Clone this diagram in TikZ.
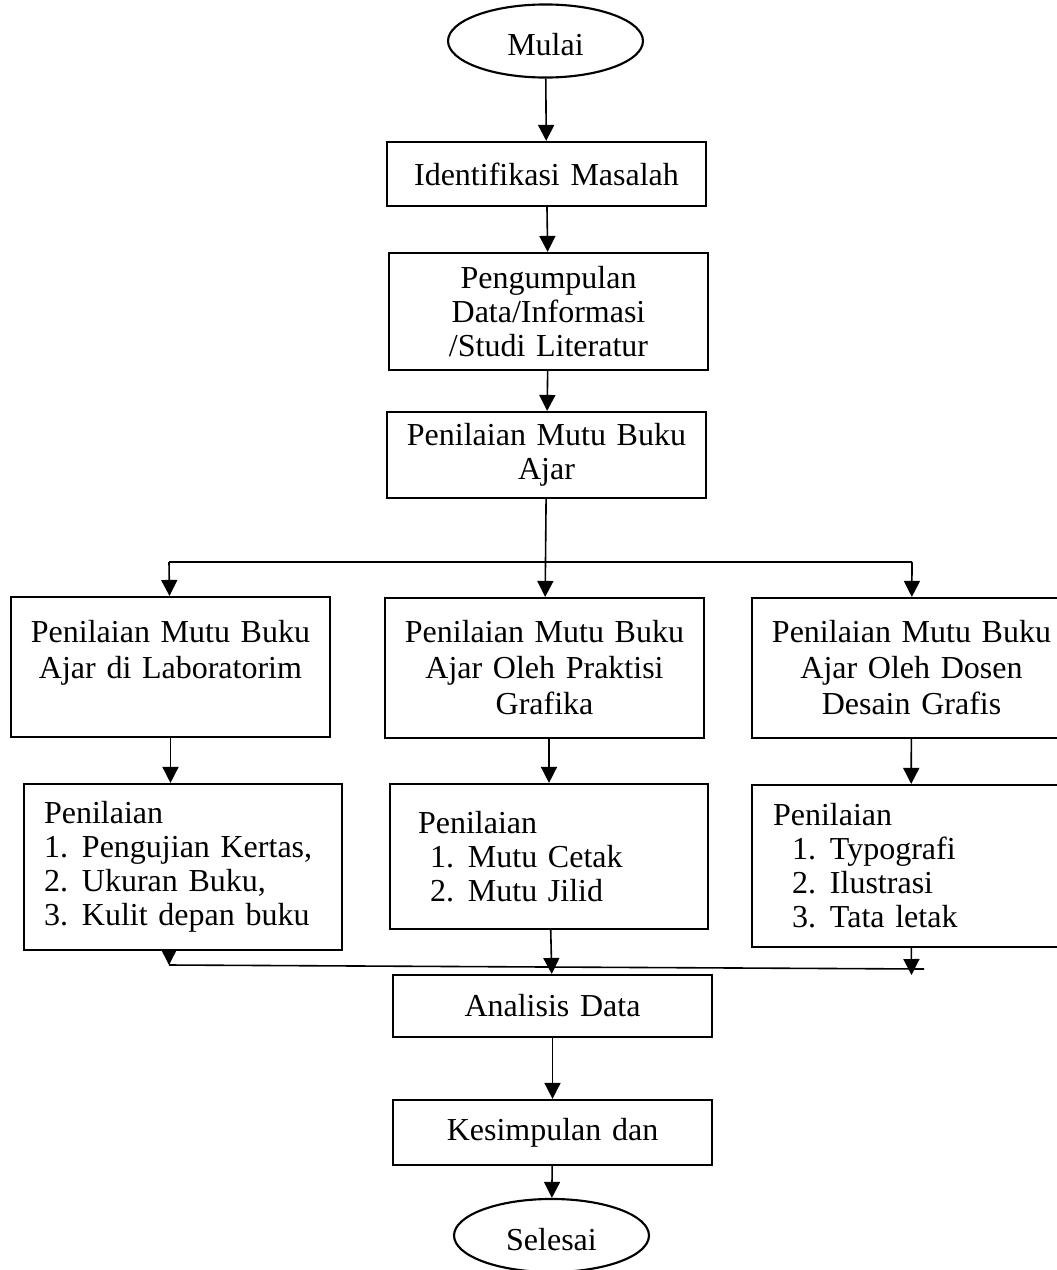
\documentclass[tikz,border=0pt]{standalone}
\usepackage{fontspec}
\setmainfont{Liberation Serif}
\usetikzlibrary{shapes.geometric,arrows.meta}
\newcommand{\butir}[3]{\hspace*{#1}\makebox[14.25pt][l]{#2}#3}

\begin{document}
\begin{tikzpicture}[x=0.375pt, y=-0.375pt,
    every node/.style={draw, line width=0.8pt, inner sep=0pt, align=center, font=\fontsize{12pt}{13.5pt}\selectfont},
    kotak/.style={rectangle, text width=119.6pt, minimum height=#1},
    daftar/.style={rectangle, align=left, minimum height=#1, font=\fontsize{12pt}{12.75pt}\selectfont},
    oval/.style={ellipse, minimum width=73.1pt, minimum height=27.4pt, text height=11pt, text depth=0pt},
    panah/.style={-{Triangle[length=6pt,width=6pt]}, line width=0.6pt}]
    \useasboundingbox (0,0) rectangle (1057,1270);

    \node[oval] (mulai) at (545.5,41) {Mulai};
    \node[kotak=24pt] (identifikasi) at (546.5,174) {Identifikasi Masalah};
    \node[kotak=43.9pt, font=\fontsize{12pt}{12.75pt}\selectfont] (pengumpulan) at (548.5,311.5) {Pengumpulan\\Data/Informasi\\/Studi Literatur};
    \node[kotak=32.25pt, font=\fontsize{12pt}{12.75pt}\selectfont] (penilaian) at (546.5,455) {Penilaian Mutu Buku\\Ajar};

    \node[kotak=52.5pt] (lab) at (170.5,667) {Penilaian Mutu Buku\\Ajar di Laboratorim\\\mbox{}};
    \node[kotak=52.5pt] (praktisi) at (544.5,668) {Penilaian Mutu Buku\\Ajar Oleh Praktisi\\Grafika};
    \node[kotak=52.5pt] (dosen) at (911.5,668) {Penilaian Mutu Buku\\Ajar Oleh Dosen\\Desain Grafis};

    \node[daftar=62.25pt, text width=104.25pt, inner xsep=7.5pt] (ujilab) at (183,867)
        {Penilaian\\\butir{0pt}{1.}{Pengujian Kertas,}\\\butir{0pt}{2.}{Ukuran Buku,}\\\butir{0pt}{3.}{Kulit depan buku}};
    \node[daftar=54.4pt, text width=98.25pt, inner xsep=10.5pt] (cetak) at (549,856.5)
        {Penilaian\\\butir{4.5pt}{1.}{Mutu Cetak}\\\butir{4.5pt}{2.}{Mutu Jilid}};
    \node[daftar=60.75pt, text width=103.45pt, inner xsep=7.9pt] (tampilan) at (911,866)
        {Penilaian\\\butir{7.1pt}{1.}{Typografi}\\\butir{7.1pt}{2.}{Ilustrasi}\\\butir{7.1pt}{3.}{Tata letak}};

    \node[kotak=23.25pt] (analisis) at (552.5,1006) {Analisis Data};
    \node[kotak=24.4pt] (kesimpulan) at (552.5,1132.5) {Kesimpulan dan};
    \node[oval] (selesai) at (551.5,1235.5) {Selesai};

    \draw[panah] (mulai) -- (identifikasi);
    \draw[panah] (identifikasi) -- (pengumpulan);
    \draw[panah] (pengumpulan) -- (penilaian);

    % cabang ke tiga penilaian
    \coordinate (cabangkiri) at (169,562);
    \coordinate (cabangkanan) at (912,562);
    \draw[line width=0.6pt] (cabangkiri) -- (cabangkanan);
    \draw[panah] (penilaian) -- (praktisi);
    \draw[panah] (cabangkiri) -- (lab);
    \draw[panah] (cabangkanan) -- (dosen);

    \draw[panah] (lab.south) -- (lab.south |- ujilab.north);
    \draw[panah] (cetak.north |- praktisi.south) -- (cetak.north);
    \draw[panah] (dosen) -- (tampilan);

    % gabung ke analisis
    \coordinate (gabungkiri) at (169,965);
    \coordinate (gabungkanan) at (924,969);
    \coordinate (ujungkanan) at (911.5,975);
    \draw[line width=0.6pt] (gabungkiri) -- (gabungkanan);
    \draw[panah] (ujilab.south -| gabungkiri) -- (gabungkiri);
    \draw[panah] (cetak) -- (analisis);
    \draw[panah] (tampilan) -- (ujungkanan);

    \draw[panah] (analisis) -- (kesimpulan);
    \draw[panah] (kesimpulan) -- (selesai);

\end{tikzpicture}
\end{document}
